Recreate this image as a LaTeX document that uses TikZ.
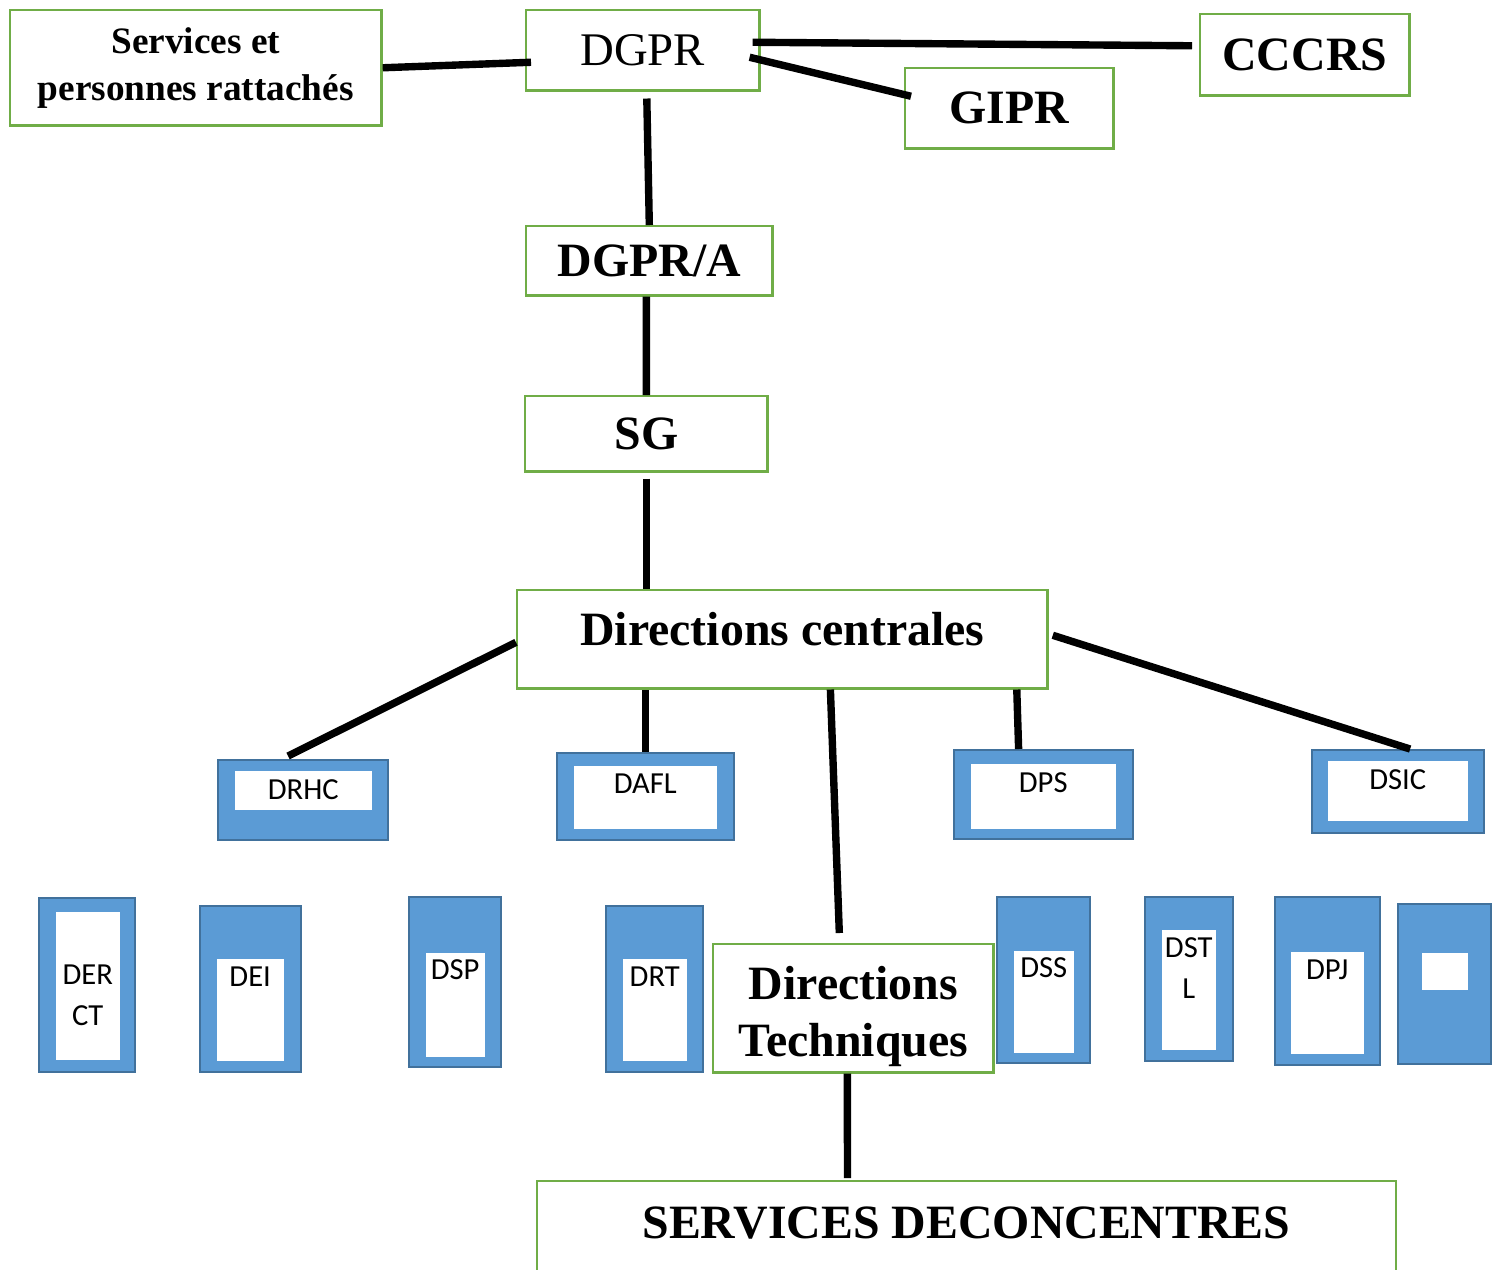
\documentclass[tikz,border=0pt]{standalone}
\usepackage{fontspec}
\setmainfont{Liberation Serif}
\setsansfont{Carlito}
\usetikzlibrary{calc}
\definecolor{boxgreen}{RGB}{112,173,71}
\definecolor{dirblue}{RGB}{91,155,213}
\definecolor{dirblueline}{RGB}{65,113,156}
\tikzset{
	gbox/.style={draw=boxgreen,line width=0.7pt,fill=white,inner sep=0pt,anchor=north west,font=\bfseries\fontsize{13.6}{16.2}\selectfont},
	bbox/.style={draw=dirblueline,line width=0.6pt,fill=dirblue,inner sep=0pt,anchor=north west},
	wbox/.style={fill=white,inner sep=0pt,anchor=north west,font=\sffamily\fontsize{8.7}{11.6}\selectfont},
	link/.style={black,line width=2.1pt}
}
\begin{document}
\begin{tikzpicture}[x=0.01cm,y=-0.01cm]
		\useasboundingbox (0,0) rectangle (1498,1269);
		% top
		\node[gbox,minimum width=3.71cm,minimum height=1.15cm,align=center,font=\bfseries\fontsize{10.6}{13.4}\selectfont] (services) at (9,9) {Services et\\personnes rattachés};
		\node[gbox,minimum width=2.33cm,minimum height=0.80cm,font=\fontsize{13.3}{16}\selectfont] (dgpr) at (525,9) {DGPR};
		\node[gbox,minimum width=2.09cm,minimum height=0.81cm] (cccrs) at (1199,13) {CCCRS};
		\node[gbox,minimum width=2.08cm,minimum height=0.80cm] (gipr) at (904,67) {GIPR};
		\node[gbox,minimum width=2.46cm,minimum height=0.69cm] (dgpra) at (525,225) {DGPR/A};
		\node[gbox,minimum width=2.42cm,minimum height=0.75cm] (sg) at (524,395) {SG};
		\node[gbox,minimum width=5.30cm,text height=0.55cm,text depth=0.43cm] (dc) at (516,589) {Directions centrales};
		% directions centrales
		\node[bbox,minimum width=1.70cm,minimum height=0.80cm] (drhc) at (217,759) {};
		\node[wbox,minimum width=1.37cm,text height=0.29cm,text depth=0.10cm] (drhc-t) at (234,770) {DRHC};
		\node[bbox,minimum width=1.77cm,minimum height=0.87cm] (dafl) at (556,752) {};
		\node[wbox,minimum width=1.43cm,text height=0.28cm,text depth=0.35cm] (dafl-t) at (573,765) {DAFL};
		\node[bbox,minimum width=1.79cm,minimum height=0.89cm] (dps) at (953,749) {};
		\node[wbox,minimum width=1.45cm,text height=0.29cm,text depth=0.36cm] (dps-t) at (970,763) {DPS};
		\node[bbox,minimum width=1.72cm,minimum height=0.83cm] (dsic) at (1311,749) {};
		\node[wbox,minimum width=1.40cm,text height=0.285cm,text depth=0.315cm] (dsic-t) at (1327,760) {DSIC};
		% directions techniques
		\node[bbox,minimum width=0.96cm,minimum height=1.74cm] (derct) at (38,897) {};
		\node[wbox,minimum width=0.64cm,text height=0.73cm,text depth=0.75cm] (derct-t) at (55,911) {\begin{tabular}[t]{@{}c@{}}DER\\CT\end{tabular}};
		\node[bbox,minimum width=1.01cm,minimum height=1.66cm] (dei) at (199,905) {};
		\node[wbox,minimum width=0.67cm,text height=0.28cm,text depth=0.74cm] (dei-t) at (216,958) {DEI};
		\node[bbox,minimum width=0.92cm,minimum height=1.70cm] (dsp) at (408,896) {};
		\node[wbox,minimum width=0.59cm,text height=0.27cm,text depth=0.77cm] (dsp-t) at (425,952) {DSP};
		\node[bbox,minimum width=0.97cm,minimum height=1.66cm] (drt) at (605,905) {};
		\node[wbox,minimum width=0.64cm,text height=0.28cm,text depth=0.74cm] (drt-t) at (622,958) {DRT};
		\node[gbox,minimum width=2.80cm,text height=0.55cm,text depth=0.73cm] (dt) at (712,943) {\begin{tabular}[t]{@{}c@{}}Directions\\Techniques\end{tabular}};
		\node[bbox,minimum width=0.93cm,minimum height=1.66cm] (dss) at (996,896) {};
		\node[wbox,minimum width=0.60cm,text height=0.27cm,text depth=0.75cm] (dss-t) at (1013,950) {DSS};
		\node[bbox,minimum width=0.88cm,minimum height=1.64cm] (dstl) at (1144,896) {};
		\node[wbox,minimum width=0.54cm,text height=0.28cm,text depth=0.92cm] (dstl-t) at (1161,929) {\begin{tabular}[t]{@{}c@{}}DST\\L\end{tabular}};
		\node[bbox,minimum width=1.05cm,minimum height=1.68cm] (dpj) at (1274,896) {};
		\node[wbox,minimum width=0.73cm,text height=0.28cm,text depth=0.74cm] (dpj-t) at (1290,951) {DPJ};
		\node[bbox,minimum width=0.93cm,minimum height=1.60cm] (dnn) at (1397,903) {};
		\node[wbox,minimum width=0.46cm,minimum height=0.37cm] (dnn-t) at (1421,952) {};
		% bottom
		\node[gbox,minimum width=8.58cm,text height=0.57cm,text depth=0.60cm] (sd) at (536,1180) {SERVICES DECONCENTRES};
		% links
		\draw[link] (services.east) -- ($(dgpr.west)+(6,12)$);
		\draw[link] ($(dgpr.east)+(-8,-8)$) -- ($(cccrs.west)+(-7,-9)$);
		\draw[link] ($(dgpr.east)+(-11,7)$) -- ($(gipr.west)+(7,-12)$);
		\draw[link] ($(dgpr.south)+(4,7)$) -- (dgpra.north);
		\draw[link] ($(dgpra.south)+(-3,0)$) -- ($(sg.north)+(0,0)$);
		\draw[link] ($(sg.south)+(0,6)$) -- (sg.south |- dc.north);
		\draw[link] ($(dc.west)+(0,3)$) -- ($(drhc.north)+(-15,-3)$);
		\draw[link] (dafl.north) -- (dafl.north |- dc.south);
		\draw[link] ($(dc.south east)+(-32,0)$) -- ($(dps.north)+(-25,0)$);
		\draw[link] ($(dc.east)+(4,-4)$) -- ($(dsic.north)+(12,0)$);
		\draw[link] ($(dc.south)+(48,0)$) -- ($(dt.north)+(-14,-10)$);
		\draw[link] ($(dt.south)+(-6,0)$) -- ($(sd.north)+(-119,-2)$);
	\end{tikzpicture}
\end{document}
